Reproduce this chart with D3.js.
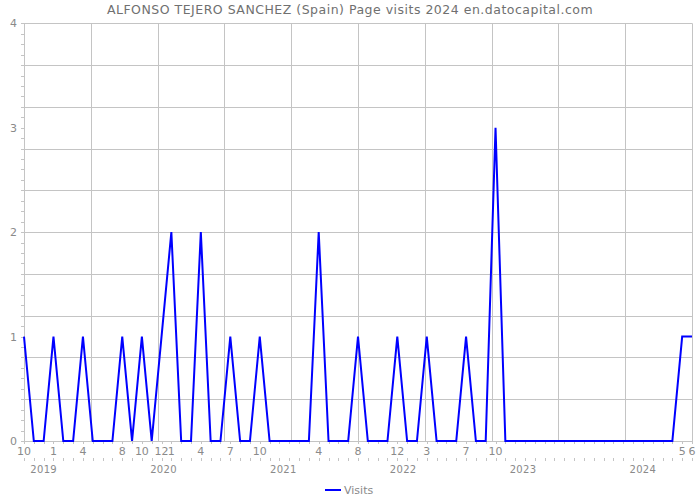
<!DOCTYPE html>
<html>
<head>
<meta charset="utf-8">
<script src="https://cdn.jsdelivr.net/npm/d3@7"></script>
<style>
  html, body { margin: 0; padding: 0; background: #fff; }
  svg { display: block; }
  text { font-family: "DejaVu Sans", sans-serif; }
</style>
</head>
<body>
<svg id="chart" width="700" height="500"></svg>
<script>
// ---- data ----
const title = "ALFONSO TEJERO SANCHEZ (Spain) Page visits 2024 en.datocapital.com";
const seriesName = "Visits";
const months = [
  "2018-10","2018-11","2018-12",
  "2019-01","2019-02","2019-03","2019-04","2019-05","2019-06","2019-07","2019-08","2019-09","2019-10","2019-11","2019-12",
  "2020-01","2020-02","2020-03","2020-04","2020-05","2020-06","2020-07","2020-08","2020-09","2020-10","2020-11","2020-12",
  "2021-01","2021-02","2021-03","2021-04","2021-05","2021-06","2021-07","2021-08","2021-09","2021-10","2021-11","2021-12",
  "2022-01","2022-02","2022-03","2022-04","2022-05","2022-06","2022-07","2022-08","2022-09","2022-10","2022-11","2022-12",
  "2023-01","2023-02","2023-03","2023-04","2023-05","2023-06","2023-07","2023-08","2023-09","2023-10","2023-11","2023-12",
  "2024-01","2024-02","2024-03","2024-04","2024-05","2024-06"
];
const visits = [
  1,0,0,
  1,0,0,1,0,0,0,1,0,1,0,1,
  2,0,0,2,0,0,1,0,0,1,0,0,
  0,0,0,2,0,0,0,1,0,0,0,1,
  0,0,1,0,0,0,1,0,0,3,0,0,
  0,0,0,0,0,0,0,0,0,0,0,0,
  0,0,0,0,1,1
];
const years = [2019, 2020, 2021, 2022, 2023, 2024];
const yTickLabels = [0, 1, 2, 3, 4];

// ---- layout ----
const plotL = 24, plotR = 692, plotT = 23.3, plotB = 441;
const svg = d3.select("#chart");
const gridColor = "#c4c4c4";
const textColor = "#8a8a8a";

const x = d3.scalePoint().domain(months).range([plotL, plotR]);
const y = d3.scaleLinear().domain([0, 4]).range([plotB, plotT]);
const yearX = d3.scalePoint().domain(years).range([x("2018-12"), x("2024-01")]);
const gridX = d3.scaleLinear().domain([0, 10]).range([plotL, plotR]);

// horizontal grid every 0.4
const hGrid = d3.range(0, 11).map(i => i * 0.4);
svg.append("g").selectAll("line").data(hGrid).join("line")
  .attr("x1", plotL).attr("x2", plotR)
  .attr("y1", d => Math.round(y(d)) + 0.5).attr("y2", d => Math.round(y(d)) + 0.5)
  .attr("stroke", gridColor).attr("stroke-width", 1);

// vertical grid
svg.append("g").selectAll("line").data(d3.range(0, 11)).join("line")
  .attr("x1", d => Math.round(gridX(d)) + 0.5).attr("x2", d => Math.round(gridX(d)) + 0.5)
  .attr("y1", plotT).attr("y2", plotB)
  .attr("stroke", gridColor).attr("stroke-width", 1);

// left minor ticks every 0.1
svg.append("g").selectAll("line").data(d3.range(0, 41).map(i => i * 0.1)).join("line")
  .attr("x1", plotL - 3).attr("x2", plotL)
  .attr("y1", d => Math.round(y(d)) + 0.5).attr("y2", d => Math.round(y(d)) + 0.5)
  .attr("stroke", gridColor).attr("stroke-width", 1);

// y labels
svg.append("g").selectAll("text").data(yTickLabels).join("text")
  .attr("x", 17).attr("y", d => y(d) + 4)
  .attr("text-anchor", "end")
  .attr("font-size", 11).attr("fill", textColor)
  .text(d => d);

// x ticks at axis and below labels
const xTicks = svg.append("g");
xTicks.selectAll("line.a").data(months).join("line").attr("class", "a")
  .attr("x1", d => Math.round(x(d)) + 0.5).attr("x2", d => Math.round(x(d)) + 0.5)
  .attr("y1", plotB).attr("y2", plotB + 3)
  .attr("stroke", gridColor);
xTicks.selectAll("line.b").data(months).join("line").attr("class", "b")
  .attr("x1", d => Math.round(x(d)) + 0.5).attr("x2", d => Math.round(x(d)) + 0.5)
  .attr("y1", 458).attr("y2", 461)
  .attr("stroke", gridColor);

// month labels for non-zero months
const labeled = months.map((m, i) => ({ m, v: visits[i] })).filter(d => d.v > 0);
svg.append("g").selectAll("text").data(labeled).join("text")
  .attr("x", d => x(d.m)).attr("y", 455)
  .attr("text-anchor", "middle")
  .attr("font-size", 11).attr("fill", textColor)
  .text(d => +d.m.slice(5));

// year labels
svg.append("g").selectAll("text").data(years).join("text")
  .attr("x", d => yearX(d)).attr("y", 472.5)
  .attr("text-anchor", "middle")
  .attr("font-size", 10).attr("fill", textColor)
  .attr("letter-spacing", 0.3)
  .text(d => d);

// line
const line = d3.line().x((d, i) => x(months[i])).y(d => y(d));
svg.append("path").datum(visits)
  .attr("d", line)
  .attr("fill", "none").attr("stroke", "#0000ff").attr("stroke-width", 2)
  .attr("stroke-linejoin", "miter");

// title
svg.append("text")
  .attr("x", 350).attr("y", 13.7)
  .attr("text-anchor", "middle")
  .attr("font-size", 12.5).attr("fill", "#707070")
  .attr("letter-spacing", 0.5)
  .text(title);

// legend
const lg = svg.append("g");
lg.append("line").attr("x1", 325).attr("x2", 341).attr("y1", 490).attr("y2", 490)
  .attr("stroke", "#0000ff").attr("stroke-width", 2);
lg.append("text").attr("x", 344).attr("y", 494)
  .attr("font-size", 11).attr("fill", textColor).text(seriesName);
</script>
</body>
</html>
